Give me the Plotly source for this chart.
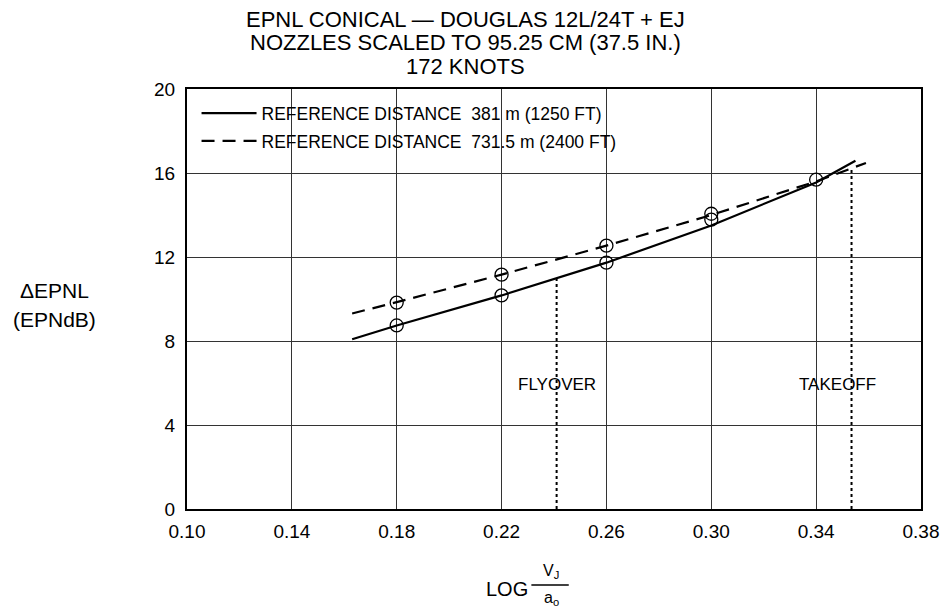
import plotly.graph_objects as go

# ---- data ----
x_ticks = [0.10, 0.14, 0.18, 0.22, 0.26, 0.30, 0.34, 0.38]
x_tick_labels = ["0.10", "0.14", "0.18", "0.22", "0.26", "0.30", "0.34", "0.38"]
y_ticks = [0, 4, 8, 12, 16, 20]

# solid curve: reference distance 381 m
solid_x = [0.163, 0.18, 0.22, 0.26, 0.30, 0.34, 0.355]
solid_y = [8.08, 8.74, 10.17, 11.73, 13.5, 15.55, 16.58]
solid_pts_x = [0.18, 0.22, 0.26, 0.30, 0.34]
solid_pts_y = [8.74, 10.17, 11.73, 13.78, 15.68]

# dashed curve: reference distance 731.5 m
dashed_x = [0.163, 0.18, 0.22, 0.26, 0.30, 0.34, 0.359]
dashed_y = [9.31, 9.85, 11.16, 12.54, 14.0, 15.6, 16.48]
dashed_pts_x = [0.18, 0.22, 0.26, 0.30]
dashed_pts_y = [9.83, 11.16, 12.54, 14.06]

# vertical markers
flyover_x = [0.241, 0.241]
flyover_y = [0, 10.97]
takeoff_x = [0.3535, 0.3535]
takeoff_y = [0, 16.15]

legend_names = ["REFERENCE DISTANCE  381 m (1250 FT)",
                "REFERENCE DISTANCE  731.5 m (2400 FT)"]
title_lines = ["EPNL CONICAL — DOUGLAS 12L/24T + EJ",
               "NOZZLES SCALED TO 95.25 CM (37.5 IN.)",
               "172 KNOTS"]

FONT = "Liberation Sans, Arial, sans-serif"
W, H = 951, 613
L, R, T, B = 187, 933, 89, 509


def px(xp):
    return (xp - L) / (R - L)


def py(yp):
    return (B - yp) / (B - T)


fig = go.Figure()
fig.add_trace(go.Scatter(x=solid_x, y=solid_y, mode="lines",
                         line=dict(color="black", width=2.2),
                         name=legend_names[0], legendgroup="a"))
fig.add_trace(go.Scatter(x=dashed_x, y=dashed_y, mode="lines",
                         line=dict(color="black", width=2.2, dash="13px,8px"),
                         name=legend_names[1], legendgroup="b"))
fig.add_trace(go.Scatter(x=solid_pts_x, y=solid_pts_y, mode="markers",
                         marker=dict(symbol="circle-open", size=13, color="black",
                                     line=dict(color="black", width=1.3)),
                         showlegend=False))
fig.add_trace(go.Scatter(x=dashed_pts_x, y=dashed_pts_y, mode="markers",
                         marker=dict(symbol="circle-open", size=13, color="black",
                                     line=dict(color="black", width=1.3)),
                         showlegend=False))
fig.add_trace(go.Scatter(x=flyover_x, y=flyover_y, mode="lines",
                         line=dict(color="black", width=2, dash="dot"),
                         showlegend=False))
fig.add_trace(go.Scatter(x=takeoff_x, y=takeoff_y, mode="lines",
                         line=dict(color="black", width=2, dash="dot"),
                         showlegend=False))


def ann(text, xp, yp, size):
    return dict(text=text, x=px(xp), y=py(yp), xref="paper", yref="paper",
                showarrow=False, xanchor="center", yanchor="middle",
                font=dict(size=size, color="black", family=FONT))


annotations = []
for i, t in enumerate(title_lines):
    annotations.append(ann(t, 470, 19.5 + 23.5 * i, 22))
annotations.append(ann("ΔEPNL", 52, 290, 21))
annotations.append(ann("(EPNdB)", 52, 319, 21))
annotations.append(ann("LOG", 512, 589, 20))
annotations.append(ann("V<sub>J</sub>", 557, 571, 16))
annotations.append(ann("a<sub>o</sub>", 557, 598, 16))
annotations.append(dict(text="FLYOVER", x=0.241, y=5.94, xref="x", yref="y",
                        showarrow=False, xanchor="center", yanchor="middle",
                        font=dict(size=17, color="black", family=FONT)))
annotations.append(dict(text="TAKEOFF", x=0.348, y=5.94, xref="x", yref="y",
                        showarrow=False, xanchor="center", yanchor="middle",
                        font=dict(size=17, color="black", family=FONT)))

fig.update_layout(
    width=W, height=H,
    margin=dict(l=L, r=W - R, t=T, b=H - B),
    paper_bgcolor="white", plot_bgcolor="white",
    font=dict(family=FONT, color="black"),
    showlegend=True,
    legend=dict(x=0.013, y=0.985, xanchor="left", yanchor="top",
                bgcolor="rgba(0,0,0,0)", font=dict(size=17.5, color="black"),
                traceorder="grouped", tracegroupgap=2, itemwidth=55),
    annotations=annotations,
    shapes=[dict(type="line", xref="paper", yref="paper",
                 x0=px(537), x1=px(575), y0=py(585), y1=py(585),
                 line=dict(color="black", width=1.5))],
)
fig.update_xaxes(range=[0.10, 0.38], tickvals=x_ticks, ticktext=x_tick_labels,
                 showgrid=True, gridcolor="#333", gridwidth=1,
                 showline=True, linecolor="black", linewidth=2, mirror=True,
                 ticks="", zeroline=False, ticklabeloverflow="allow",
                 ticklabelstandoff=4,
                 tickfont=dict(size=19, color="black", family=FONT))
fig.update_yaxes(range=[0, 20], tickvals=y_ticks,
                 showgrid=True, gridcolor="#333", gridwidth=1,
                 showline=True, linecolor="black", linewidth=2, mirror=True,
                 ticks="", zeroline=False, ticklabelstandoff=6,
                 tickfont=dict(size=19, color="black", family=FONT))

fig.write_html("out.html",
               config={"displayModeBar": False},
               post_script="document.body.style.margin='0';"
                           "document.body.style.overflow='hidden';")
